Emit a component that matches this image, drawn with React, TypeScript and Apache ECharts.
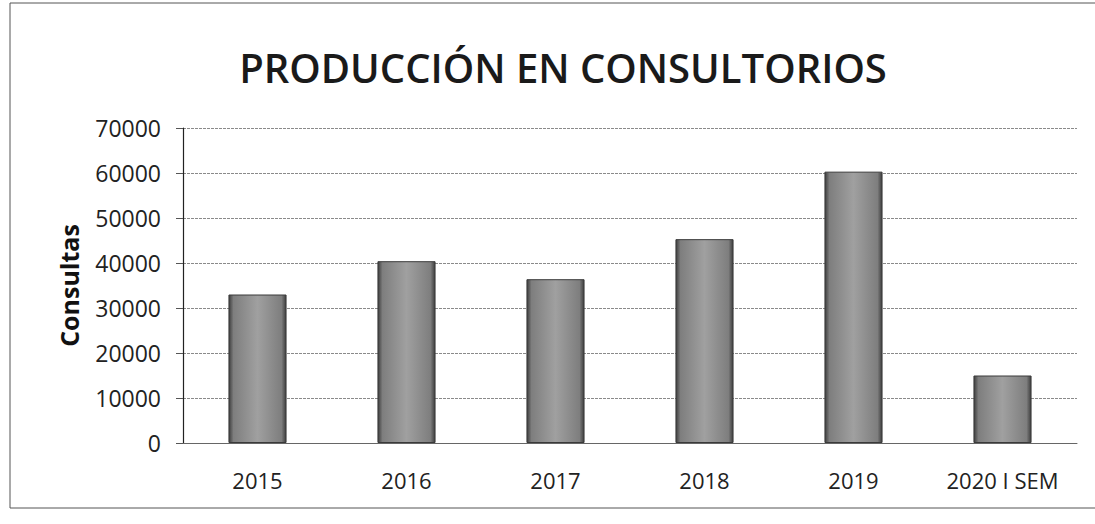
import React, { useEffect, useRef } from "react";
import * as echarts from "echarts";

const titleText = "PRODUCCIÓN EN CONSULTORIOS";
const yAxisName = "Consultas";
const categories = ["2015", "2016", "2017", "2018", "2019", "2020 I SEM"];
const consultas = [33000, 40400, 36400, 45300, 60300, 15000];
const yTicks = { min: 0, max: 70000, interval: 10000 };

export default function App() {
  const ref = useRef<HTMLDivElement>(null);
  useEffect(() => {
    if (!ref.current) return;
    const chart = echarts.init(ref.current, undefined, { renderer: "svg" });
    const barFill = new echarts.graphic.LinearGradient(0, 0, 1, 0, [
      { offset: 0, color: "#3e3e3e" },
      { offset: 0.08, color: "#7e7e7e" },
      { offset: 0.5, color: "#a0a0a0" },
      { offset: 0.92, color: "#7e7e7e" },
      { offset: 1, color: "#3e3e3e" },
    ]);
    chart.setOption({
      animation: false,
      backgroundColor: "#ffffff",
      title: {
        text: titleText,
        left: 558,
        textAlign: "center",
        top: 42,
        textStyle: {
          fontFamily: "Open Sans",
          fontSize: 40,
          fontWeight: 600,
          color: "#1a1a1a",
        },
      },
      graphic: [
        {
          type: "rect",
          shape: { x: 10, y: 3, width: 1095, height: 505 },
          style: { fill: "none", stroke: "#555", lineWidth: 1 },
          silent: true,
        },
      ],
      grid: { left: 183, right: 18, top: 128, bottom: 81 },
      xAxis: {
        type: "category",
        data: categories,
        axisTick: { show: false },
        axisLine: { lineStyle: { color: "#666", width: 1 } },
        axisLabel: {
          interval: 0,
          fontFamily: "Open Sans",
          fontSize: 22,
          color: "#222",
          margin: 26,
        },
      },
      yAxis: {
        type: "value",
        min: yTicks.min,
        max: yTicks.max,
        interval: yTicks.interval,
        name: yAxisName,
        nameLocation: "middle",
        nameGap: 102,
        nameTextStyle: {
          fontFamily: "Open Sans",
          fontSize: 25,
          fontWeight: "bold",
          color: "#111",
        },
        axisLine: { show: true, lineStyle: { color: "#222", width: 1.2 } },
        axisTick: { show: true, length: 7, lineStyle: { color: "#555" } },
        splitLine: { lineStyle: { color: "#8a8a8a", width: 1, type: [3, 1] } },
        axisLabel: {
          fontFamily: "Open Sans",
          fontSize: 23,
          color: "#222",
          margin: 22,
          formatter: (v: number) => String(v),
        },
      },
      series: [
        {
          type: "bar",
          data: consultas,
          barWidth: "39%",
          itemStyle: {
            color: barFill,
            borderColor: "#3a3a3a",
            borderWidth: 1,
          },
        },
      ],
    });
    return () => chart.dispose();
  }, []);
  return <div ref={ref} style={{ width: 1095, height: 524, position: "absolute", left: 0, top: 0 }} />;
}
